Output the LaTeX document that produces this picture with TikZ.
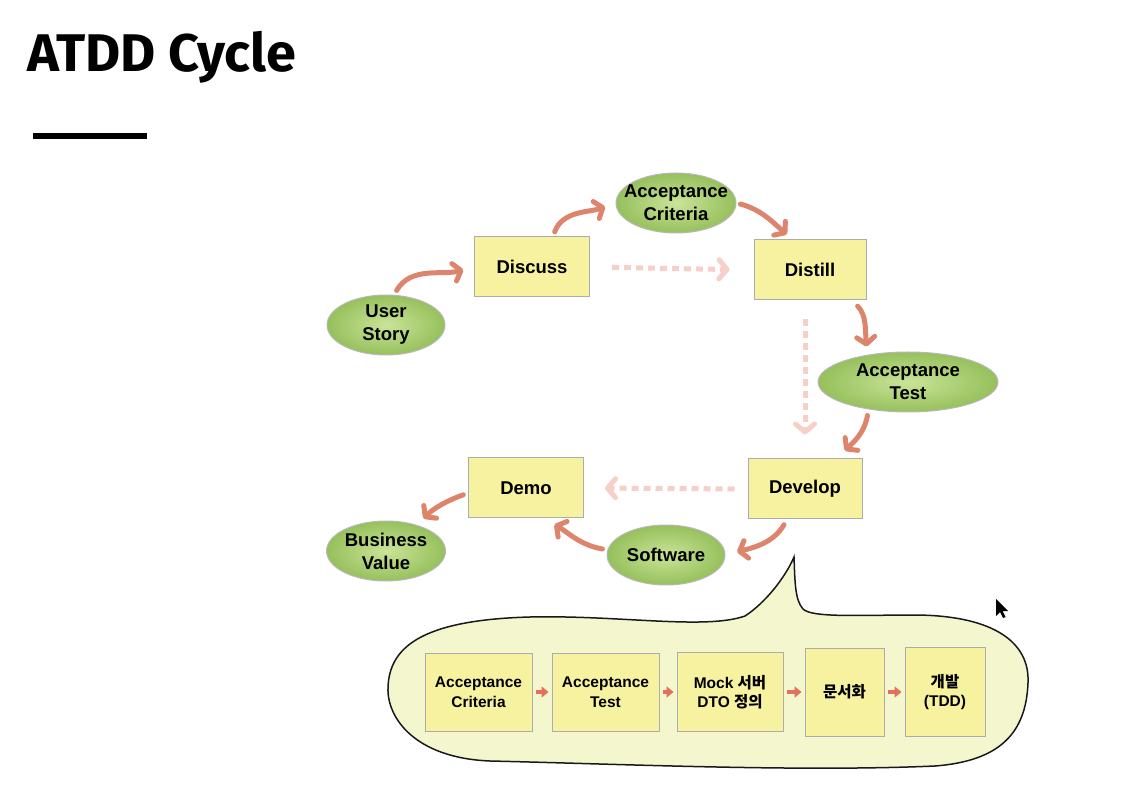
\documentclass[tikz,border=0pt]{standalone}
\usepackage{fontspec}
\setmainfont{Liberation Sans}
\newfontfamily\titlefont{Fira Sans}
\newfontfamily\krfont{Noto Sans CJK KR}
\usetikzlibrary{arrows.meta,shapes.geometric}
\definecolor{flowred}{RGB}{221,132,108}
\definecolor{dashpink}{RGB}{246,208,200}
\definecolor{boxyellow}{RGB}{247,242,160}
\definecolor{leafgreen}{RGB}{150,192,92}
\definecolor{leaflight}{RGB}{202,228,152}
\definecolor{bubble}{RGB}{244,246,206}

\begin{document}
\begin{tikzpicture}[x=1pt, y=1pt,
    card/.style={draw=gray!65, line width=1pt, fill=boxyellow, minimum width=115pt,
      minimum height=60pt, inner sep=0pt, align=center,
      font=\fontsize{18.5}{23}\selectfont\bfseries},
    pill/.style={ellipse, draw=gray!55, line width=1pt, inner color=leaflight,
      outer color=leafgreen, minimum width=118pt, minimum height=60pt, inner sep=0pt},
    pilltext/.style={align=center, inner sep=0pt, font=\fontsize{18.5}{23}\selectfont\bfseries},
    task/.style={card, font=\fontsize{15.5}{19.5}\selectfont\bfseries},
    flow/.style={draw=flowred, line width=5pt, line cap=round,
      -{Straight Barb[length=7pt,width=18pt,round]}},
    hint/.style={draw=dashpink, line width=5pt, dash pattern=on 7pt off 5pt,
      -{Straight Barb[length=8pt,width=19pt,round]}},
    link/.style={draw=flowred!85!red, line width=4pt,
      -{Triangle[length=7pt,width=11pt]}, shorten <=3pt, shorten >=3pt}]
  \useasboundingbox (0,0) rectangle (1125,788);

  % title
  \node[anchor=base west, inner sep=0pt, xscale=1.02,
    font=\titlefont\bfseries\fontsize{53}{53}\selectfont] (title) at (27,716) {ATDD Cycle};
  \fill (33,649) rectangle (147,655);

  % cycle
  \node[pill, label={[pilltext]center:User\\Story}] (story) at (386,463) {};
  \node[card] (discuss) at (532,521) {Discuss};
  \node[pill, minimum width=120pt, label={[pilltext]center:Acceptance\\Criteria}] (crit) at (676,585) {};
  \node[card, minimum width=112pt] (distill) at (810,518) {Distill};
  \node[pill, minimum width=180pt, label={[pilltext]center:Acceptance\\Test}] (test) at (908,406) {};
  \node[card, minimum width=114pt] (develop) at (805,299) {Develop};
  \node[card] (demo) at (526,300) {Demo};
  \node[pill, minimum width=119pt, label={[pilltext]center:Business\\Value}] (value) at (386,237) {};
  \node[pill, label={[pilltext]center:Software}] (soft) at (666,233) {};

  \draw[flow, shorten <=5pt, shorten >=11pt] (story.75) to[out=60, in=195] (discuss.west);
  \draw[flow, shorten <=5pt, shorten >=11pt] ([xshift=21pt]discuss.north) to[out=70, in=200] (crit.west);
  \draw[flow, shorten <=4pt, shorten >=8pt] (crit.east) to[out=-15, in=140] ([xshift=-17pt]distill.north);
  \draw[flow, shorten <=8pt, shorten >=5pt] ([xshift=42pt]distill.south) to[out=-45, in=95] ([xshift=-41pt]test.north);
  \draw[flow, shorten <=3pt, shorten >=11pt] ([xshift=-40pt]test.south) to[out=-100, in=45] ([xshift=32pt]develop.north);
  \draw[flow, shorten <=6pt, shorten >=12pt] ([xshift=-18pt]develop.south) to[out=-120, in=15] (soft.east);
  \draw[flow, shorten <=5pt, shorten >=12pt] (soft.175) to[out=170, in=-30] ([xshift=18pt]demo.south);
  \draw[flow, shorten <=5pt, shorten >=9pt] (demo.185) to[out=200, in=45] (value.40);

  \draw[hint, shorten <=22pt, shorten >=24pt] (discuss.east) -- (distill.west);
  \draw[hint, shorten <=19pt, shorten >=24pt] ([xshift=-5pt]distill.south) -- (develop.north);
  \draw[hint, shorten <=13pt, shorten >=21pt] (develop.west) -- (demo.east);

  % callout
  \draw[draw=gray!20!black, line width=1.5pt, fill=bubble]
    (794,231) .. controls (795,205) and (795,188) .. (803,179)
    .. controls (812,170) and (860,173) .. (917,173)
    .. controls (995,172) and (1030,145) .. (1028,105)
    .. controls (1026,55) and (1000,27) .. (935,22)
    .. controls (800,16) and (620,24) .. (490,27)
    .. controls (415,30) and (387,70) .. (388,100)
    .. controls (389,140) and (420,168) .. (530,171)
    .. controls (620,173) and (705,158) .. (745,172)
    .. controls (765,185) and (785,210) .. (794,231) -- cycle;

  \node[task, minimum width=107pt, minimum height=78pt] (b1) at (478.5,96) {Acceptance\\Criteria};
  \node[task, minimum width=107pt, minimum height=78pt] (b2) at (605.5,96) {Acceptance\\Test};
  \node[task, minimum width=106pt, minimum height=79pt] (b3) at (730,96) {Mock {\krfont 서버}\\DTO {\krfont 정의}};
  \node[task, minimum width=79pt, minimum height=88pt] (b4) at (844.5,96) {\krfont 문서화};
  \node[task, minimum width=80pt, minimum height=89pt] (b5) at (945,96) {{\krfont 개발}\\(TDD)};
  \foreach \a/\b in {b1/b2, b2/b3, b3/b4, b4/b5}
    \draw[link] (\a) -- (\b);

  % pointer
  \fill (996,189) -- (996,172) -- (1000,176) -- (1003,170) -- (1005.5,171) -- (1002.5,177) -- (1008,177) -- cycle;
\end{tikzpicture}
\end{document}
